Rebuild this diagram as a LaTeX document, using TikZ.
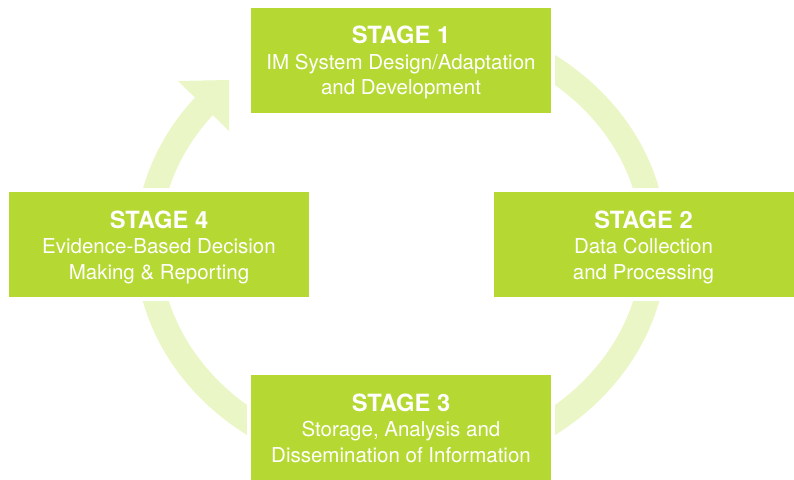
\documentclass[tikz,border=0pt]{standalone}
\usepackage{fontspec}
\setmainfont{TeX Gyre Heros}
\definecolor{boxgreen}{HTML}{B5D932}
\definecolor{ringgreen}{HTML}{EAF6C6}
\tikzset{
  stagebox/.style={draw=white, line width=4pt, fill=boxgreen, text=white,
    minimum width=304pt, minimum height=109pt, inner sep=0pt, align=center,
    text depth=0pt, font=\fontsize{20.5}{25.5}\selectfont},
  ring/.style={draw=ringgreen, line width=25pt, line cap=butt},
  ringhead/.style={fill=ringgreen, draw=none}
}
\newcommand{\stagetitle}[1]{{\bfseries\fontsize{23.7}{25.5}\selectfont #1}}
\begin{document}
\begin{tikzpicture}[x=1pt,y=1pt]
\useasboundingbox (0,0) rectangle (794,479);
% cycle ring
\coordinate (c) at (401,234);
\draw[ring] (c) ++(100:253.5 and 220.5) arc[start angle=100, end angle=-219.3, x radius=253.5, y radius=220.5];
\coordinate (tip) at (229,399);
\coordinate (barbL) at (178,398);
\coordinate (barbR) at (229,348);
\fill[ringhead] (tip) -- (barbL) -- (barbR) -- cycle;
% stages
\node[stagebox] (s1) at (401,418.5) {\stagetitle{STAGE 1}\\IM System Design/Adaptation\\and Development};
\node[stagebox] (s2) at (643.5,234) {\stagetitle{STAGE 2}\\Data Collection\\and Processing};
\node[stagebox] (s3) at (401,51) {\stagetitle{STAGE 3}\\Storage, Analysis and\\Dissemination of Information};
\node[stagebox] (s4) at (159,234) {\stagetitle{STAGE 4}\\Evidence-Based Decision\\Making \& Reporting};
\end{tikzpicture}
\end{document}
